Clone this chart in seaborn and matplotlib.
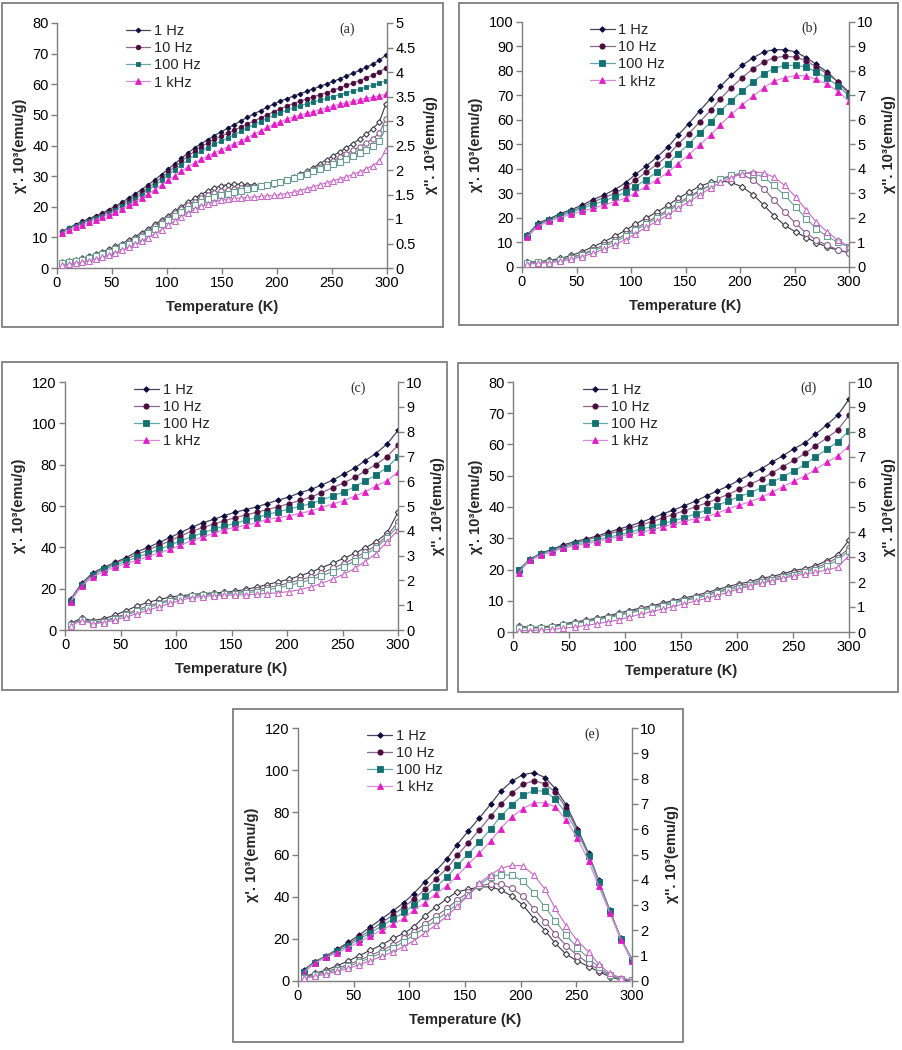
import matplotlib
matplotlib.use("Agg")
import matplotlib.pyplot as plt
import seaborn as sns
from matplotlib.patches import Rectangle
from matplotlib.ticker import FuncFormatter

# --- temperatures (K) ---
T_A = [5, 11, 17, 23, 29, 35, 41, 47, 53, 59, 65, 71, 77, 83, 89, 95, 101, 107, 113, 119,
       125, 131, 137, 143, 149, 155, 161, 167, 173, 179, 185, 191, 197, 203, 209, 215, 221,
       227, 233, 239, 245, 251, 257, 263, 269, 275, 281, 287, 293, 299]
T = [5, 15, 25, 35, 45, 55, 65, 75, 85, 95, 104, 114, 124, 134, 143, 153, 163, 173, 182, 192,
     202, 212, 222, 231, 241, 251, 261, 270, 280, 290, 300]

FREQS = ["1 Hz", "10 Hz", "100 Hz", "1 kHz"]

# --- panel (a) ---
a_re_1hz = [12.0, 13.2, 14.2, 15.2, 16.1, 17.0, 17.9, 19.0, 20.2, 21.4, 22.8, 24.2, 25.6, 27.2, 28.8,
            30.5, 32.3, 34.0, 35.8, 37.5, 39.2, 40.6, 41.9, 43.2, 44.4, 45.6, 46.8, 48.0, 49.2, 50.3,
            51.4, 52.5, 53.5, 54.5, 55.3, 56.1, 56.9, 57.7, 58.5, 59.3, 60.1, 60.9, 61.8, 62.7, 63.6,
            64.5, 65.5, 66.6, 67.8, 69.6]
a_re_10hz = [11.9, 13.0, 14.0, 14.9, 15.8, 16.6, 17.5, 18.5, 19.6, 20.8, 22.0, 23.3, 24.7, 26.2, 27.8,
             29.5, 31.2, 33.0, 34.8, 36.5, 38.1, 39.5, 40.8, 42.0, 43.0, 44.0, 45.0, 46.0, 47.0, 48.0,
             49.0, 50.0, 51.0, 52.0, 52.9, 53.7, 54.5, 55.2, 55.9, 56.6, 57.3, 58.0, 58.8, 59.6, 60.4,
             61.2, 62.1, 63.0, 64.0, 65.3]
a_re_100hz = [11.8, 12.9, 13.8, 14.7, 15.5, 16.3, 17.1, 18.0, 19.0, 20.1, 21.3, 22.6, 24.0, 25.5, 27.0,
              28.6, 30.3, 32.0, 33.7, 35.3, 36.8, 38.1, 39.3, 40.4, 41.4, 42.4, 43.5, 44.6, 45.7, 46.8,
              47.8, 48.8, 49.8, 50.7, 51.5, 52.3, 53.0, 53.6, 54.2, 54.8, 55.4, 56.0, 56.6, 57.2, 57.8,
              58.4, 59.0, 59.6, 60.3, 61.2]
a_re_1khz = [11.4, 12.4, 13.3, 14.1, 14.9, 15.7, 16.5, 17.4, 18.4, 19.4, 20.5, 21.7, 22.9, 24.2, 25.6,
             27.1, 28.6, 30.1, 31.6, 33.0, 34.3, 35.5, 36.6, 37.6, 38.5, 39.5, 40.5, 41.5, 42.6, 43.7,
             44.8, 45.9, 46.9, 47.8, 48.6, 49.3, 49.9, 50.5, 51.1, 51.7, 52.3, 52.9, 53.5, 54.0, 54.5,
             55.0, 55.4, 55.8, 56.2, 56.8]
a_im_1hz = [0.12, 0.14, 0.17, 0.2, 0.24, 0.28, 0.33, 0.38, 0.44, 0.5, 0.57, 0.64, 0.72, 0.8, 0.89,
            0.98, 1.07, 1.16, 1.25, 1.34, 1.42, 1.5, 1.57, 1.63, 1.68, 1.7, 1.71, 1.71, 1.7, 1.69,
            1.68, 1.69, 1.72, 1.76, 1.8, 1.85, 1.91, 1.98, 2.05, 2.13, 2.21, 2.29, 2.37, 2.45, 2.54,
            2.63, 2.73, 2.84, 2.98, 3.35]
a_im_10hz = [0.1, 0.12, 0.15, 0.18, 0.21, 0.25, 0.3, 0.35, 0.4, 0.46, 0.53, 0.6, 0.68, 0.76, 0.85,
             0.94, 1.03, 1.12, 1.2, 1.28, 1.35, 1.42, 1.48, 1.53, 1.57, 1.6, 1.62, 1.64, 1.65, 1.66,
             1.67, 1.69, 1.72, 1.75, 1.79, 1.84, 1.89, 1.95, 2.01, 2.07, 2.13, 2.19, 2.26, 2.33, 2.4,
             2.47, 2.55, 2.64, 2.75, 3.05]
a_im_100hz = [0.1, 0.12, 0.14, 0.17, 0.2, 0.24, 0.28, 0.33, 0.38, 0.44, 0.5, 0.57, 0.64, 0.72, 0.8,
              0.89, 0.98, 1.06, 1.14, 1.21, 1.28, 1.34, 1.4, 1.45, 1.49, 1.52, 1.55, 1.58, 1.61, 1.64,
              1.67, 1.7, 1.73, 1.76, 1.79, 1.83, 1.87, 1.92, 1.97, 2.02, 2.07, 2.12, 2.17, 2.22, 2.28,
              2.34, 2.41, 2.49, 2.6, 2.85]
a_im_1khz = [0.06, 0.08, 0.1, 0.12, 0.15, 0.18, 0.22, 0.26, 0.31, 0.36, 0.42, 0.48, 0.55, 0.62, 0.7,
             0.78, 0.87, 0.96, 1.05, 1.13, 1.2, 1.26, 1.31, 1.35, 1.38, 1.4, 1.42, 1.43, 1.44, 1.45,
             1.46, 1.47, 1.48, 1.5, 1.52, 1.55, 1.58, 1.62, 1.66, 1.7, 1.74, 1.78, 1.82, 1.86, 1.91,
             1.96, 2.02, 2.09, 2.18, 2.4]

# --- panel (b) ---
b_re_1hz = [13.2, 18.0, 19.7, 21.8, 23.4, 25.2, 27.5, 29.3, 31.6, 34.3, 37.8, 41.2, 44.9, 49.0, 53.7,
            58.5, 63.7, 68.7, 73.7, 78.2, 82.3, 85.4, 87.8, 88.7, 88.7, 87.8, 85.4, 82.7, 79.6, 75.5, 71.4]
b_re_10hz = [12.9, 17.5, 19.3, 21.2, 22.8, 24.5, 26.5, 28.3, 30.0, 32.5, 35.4, 38.8, 41.9, 45.6, 50.0,
             54.4, 59.2, 63.9, 68.7, 73.2, 77.3, 81.0, 83.7, 85.4, 86.0, 85.7, 84.1, 81.6, 78.9, 75.5, 70.5]
b_re_100hz = [12.8, 17.2, 19.0, 20.8, 22.3, 23.8, 25.5, 27.0, 28.5, 30.5, 32.8, 35.7, 38.8, 42.2, 46.2,
              50.2, 54.7, 59.1, 63.6, 67.9, 71.8, 75.6, 78.9, 81.0, 82.3, 82.3, 81.6, 79.6, 77.0, 74.0, 69.8]
b_re_1khz = [12.2, 16.8, 18.6, 20.2, 21.5, 22.7, 24.0, 25.3, 26.6, 28.1, 30.3, 33.0, 35.7, 38.7, 42.2,
             45.8, 49.9, 53.9, 58.1, 62.3, 66.2, 69.8, 73.2, 75.8, 77.3, 78.2, 78.0, 76.6, 74.7, 71.6, 67.7]
b_im_1hz = [0.2, 0.22, 0.27, 0.35, 0.47, 0.63, 0.82, 1.03, 1.25, 1.5, 1.75, 2.0, 2.25, 2.52, 2.8,
            3.05, 3.3, 3.45, 3.52, 3.45, 3.27, 2.95, 2.52, 2.1, 1.7, 1.43, 1.2, 0.99, 0.82, 0.68, 0.58]
b_im_10hz = [0.18, 0.2, 0.24, 0.3, 0.4, 0.53, 0.7, 0.9, 1.1, 1.33, 1.57, 1.82, 2.07, 2.33, 2.6,
             2.87, 3.12, 3.35, 3.55, 3.72, 3.78, 3.55, 3.2, 2.74, 2.25, 1.78, 1.38, 1.1, 0.88, 0.71, 0.58]
b_im_100hz = [0.17, 0.19, 0.22, 0.28, 0.37, 0.49, 0.64, 0.83, 1.02, 1.25, 1.5, 1.75, 2.0, 2.27, 2.53,
              2.8, 3.08, 3.35, 3.6, 3.75, 3.84, 3.81, 3.67, 3.33, 2.93, 2.45, 1.97, 1.56, 1.25, 1.0, 0.82]
b_im_1khz = [0.12, 0.15, 0.18, 0.23, 0.31, 0.42, 0.56, 0.72, 0.9, 1.12, 1.36, 1.62, 1.88, 2.13, 2.4,
             2.66, 2.95, 3.22, 3.45, 3.65, 3.8, 3.88, 3.84, 3.67, 3.33, 2.86, 2.31, 1.84, 1.43, 1.09, 0.84]

# --- panel (c) ---
c_re_1hz = [14.8, 22.6, 27.7, 30.3, 32.7, 35.0, 37.9, 40.0, 42.4, 44.8, 47.2, 49.6, 51.9, 53.5, 55.3,
            56.9, 58.3, 59.6, 61.2, 62.8, 64.4, 66.5, 68.1, 70.1, 72.5, 75.4, 78.4, 81.8, 85.4, 89.9, 96.6]
c_re_10hz = [14.5, 22.2, 27.3, 29.8, 32.2, 34.3, 36.5, 38.8, 41.0, 43.2, 45.5, 47.7, 49.6, 51.2, 52.8,
             54.3, 55.7, 57.0, 58.3, 59.6, 61.2, 62.7, 64.4, 66.5, 68.8, 71.2, 73.8, 76.8, 80.0, 83.8, 89.4]
c_re_100hz = [14.2, 21.7, 26.6, 29.3, 31.3, 33.2, 35.2, 37.1, 39.0, 41.1, 43.2, 45.1, 47.0, 48.8, 50.3,
              51.5, 53.2, 54.4, 55.9, 57.2, 58.5, 59.9, 61.2, 62.8, 64.8, 66.8, 69.3, 72.0, 74.9, 78.6, 83.8]
c_re_1khz = [13.7, 21.3, 25.8, 28.2, 30.5, 32.0, 33.8, 35.6, 37.4, 39.0, 41.1, 43.2, 45.1, 46.7, 48.6,
             49.6, 50.7, 52.0, 53.5, 54.3, 55.3, 56.4, 57.7, 59.3, 60.9, 62.5, 64.8, 66.8, 69.6, 72.2, 76.5]
c_im_1hz = [0.27, 0.48, 0.38, 0.46, 0.6, 0.78, 0.97, 1.12, 1.23, 1.33, 1.38, 1.43, 1.47, 1.5, 1.52,
            1.56, 1.64, 1.73, 1.83, 1.94, 2.05, 2.19, 2.34, 2.51, 2.69, 2.89, 3.09, 3.3, 3.55, 3.9, 4.75]
c_im_10hz = [0.24, 0.45, 0.32, 0.38, 0.5, 0.65, 0.82, 0.97, 1.1, 1.23, 1.32, 1.39, 1.43, 1.46, 1.48,
             1.51, 1.56, 1.62, 1.7, 1.79, 1.9, 2.02, 2.15, 2.3, 2.48, 2.68, 2.9, 3.13, 3.4, 3.8, 4.35]
c_im_100hz = [0.22, 0.42, 0.28, 0.34, 0.46, 0.6, 0.75, 0.9, 1.04, 1.18, 1.28, 1.36, 1.4, 1.43, 1.45,
              1.47, 1.5, 1.55, 1.62, 1.7, 1.8, 1.91, 2.03, 2.18, 2.35, 2.55, 2.78, 3.02, 3.3, 3.7, 4.2]
c_im_1khz = [0.18, 0.38, 0.25, 0.3, 0.4, 0.52, 0.66, 0.8, 0.94, 1.08, 1.2, 1.3, 1.35, 1.38, 1.4,
             1.41, 1.42, 1.45, 1.47, 1.5, 1.55, 1.63, 1.74, 1.88, 2.05, 2.25, 2.48, 2.75, 3.08, 3.55, 4.03]

# --- panel (d) ---
d_re_1hz = [19.9, 23.3, 25.2, 26.5, 27.9, 28.9, 29.8, 30.7, 31.9, 33.0, 33.9, 35.1, 36.4, 37.8, 39.0,
            40.4, 41.9, 43.6, 45.1, 46.7, 48.6, 50.5, 52.3, 54.3, 56.4, 58.7, 60.6, 63.3, 66.2, 69.4, 74.5]
d_re_10hz = [19.7, 23.0, 24.9, 26.2, 27.5, 28.5, 29.4, 30.3, 31.3, 32.3, 33.2, 34.2, 35.3, 36.5, 37.6,
             38.8, 40.1, 41.3, 42.6, 44.0, 45.7, 47.3, 49.0, 50.9, 52.9, 55.0, 57.2, 59.6, 62.0, 64.7, 69.3]
d_re_100hz = [19.9, 23.1, 24.9, 26.1, 27.0, 28.1, 28.7, 29.5, 30.3, 31.1, 31.9, 32.9, 33.7, 34.8, 35.5,
              36.6, 37.8, 39.0, 40.4, 41.9, 43.3, 44.6, 46.2, 47.9, 49.7, 51.6, 53.7, 56.1, 58.4, 60.9, 64.4]
d_re_1khz = [19.0, 22.9, 24.5, 25.7, 26.8, 27.6, 28.2, 28.9, 29.8, 30.5, 31.4, 31.9, 32.7, 33.7, 34.5,
             35.5, 36.2, 36.9, 38.0, 39.4, 40.6, 41.7, 43.1, 44.7, 46.5, 48.3, 50.0, 52.0, 54.3, 56.3, 59.6]
d_im_1hz = [0.23, 0.19, 0.2, 0.25, 0.33, 0.4, 0.47, 0.56, 0.65, 0.76, 0.86, 0.96, 1.05, 1.16, 1.26,
            1.36, 1.46, 1.58, 1.69, 1.82, 1.93, 2.02, 2.15, 2.22, 2.33, 2.46, 2.54, 2.65, 2.85, 3.09, 3.68]
d_im_10hz = [0.2, 0.17, 0.18, 0.22, 0.3, 0.37, 0.44, 0.52, 0.61, 0.71, 0.81, 0.91, 1.0, 1.1, 1.2,
             1.3, 1.4, 1.51, 1.62, 1.74, 1.85, 1.95, 2.07, 2.15, 2.26, 2.38, 2.47, 2.57, 2.75, 2.97, 3.35]
d_im_100hz = [0.18, 0.15, 0.16, 0.2, 0.27, 0.34, 0.41, 0.49, 0.57, 0.67, 0.76, 0.86, 0.95, 1.05, 1.15,
              1.25, 1.35, 1.45, 1.56, 1.68, 1.78, 1.88, 2.0, 2.08, 2.19, 2.3, 2.4, 2.5, 2.66, 2.87, 3.25]
d_im_1khz = [0.05, 0.06, 0.08, 0.11, 0.15, 0.2, 0.26, 0.33, 0.41, 0.49, 0.6, 0.71, 0.82, 0.92, 1.02,
             1.13, 1.24, 1.35, 1.46, 1.59, 1.72, 1.85, 1.95, 2.05, 2.15, 2.24, 2.32, 2.39, 2.48, 2.59, 3.06]

# --- panel (e) ---
e_re_1hz = [5.2, 9.2, 11.8, 15.0, 18.3, 21.8, 25.7, 29.4, 33.2, 37.1, 41.5, 47.1, 52.3, 58.1, 64.7,
            71.2, 77.4, 83.8, 90.0, 94.7, 97.9, 98.8, 96.5, 91.3, 83.4, 72.3, 60.5, 47.8, 33.6, 20.2, 10.3]
e_re_10hz = [4.7, 9.0, 11.6, 14.5, 17.6, 20.7, 24.0, 27.6, 31.2, 35.0, 38.8, 43.4, 48.5, 53.5, 59.6,
             65.6, 71.8, 78.1, 83.8, 89.2, 93.3, 95.0, 93.5, 89.5, 82.0, 71.5, 60.0, 47.3, 33.3, 20.0, 9.6]
e_re_100hz = [4.5, 8.7, 11.3, 14.0, 16.8, 19.8, 22.8, 26.0, 29.3, 32.5, 36.0, 40.2, 44.7, 49.5, 54.8,
              60.3, 66.0, 72.1, 78.1, 83.5, 88.0, 90.4, 90.0, 86.2, 79.5, 70.2, 59.5, 47.0, 33.0, 20.0, 10.0]
e_re_1khz = [3.8, 8.4, 11.2, 13.4, 15.8, 18.6, 21.3, 24.2, 26.8, 29.7, 33.6, 37.1, 41.5, 45.2, 49.9,
             55.4, 60.8, 66.3, 72.3, 77.8, 81.8, 84.5, 84.5, 82.6, 76.3, 67.6, 57.0, 45.1, 32.4, 19.5, 9.5]
e_im_1hz = [0.17, 0.3, 0.43, 0.6, 0.79, 1.0, 1.22, 1.42, 1.68, 1.88, 2.14, 2.58, 2.93, 3.26, 3.53,
            3.62, 3.72, 3.72, 3.6, 3.36, 3.0, 2.47, 1.99, 1.49, 1.05, 0.79, 0.57, 0.37, 0.17, 0.04, 0.0]
e_im_10hz = [0.15, 0.26, 0.37, 0.5, 0.65, 0.82, 1.01, 1.2, 1.42, 1.68, 1.95, 2.25, 2.56, 2.88, 3.2,
             3.5, 3.75, 3.85, 3.83, 3.66, 3.36, 2.85, 2.34, 1.86, 1.4, 1.0, 0.7, 0.45, 0.22, 0.08, 0.02]
e_im_100hz = [0.12, 0.22, 0.32, 0.44, 0.58, 0.74, 0.92, 1.1, 1.3, 1.55, 1.82, 2.1, 2.4, 2.72, 3.05,
              3.4, 3.8, 4.12, 4.2, 4.18, 3.95, 3.48, 2.92, 2.38, 1.82, 1.3, 0.9, 0.55, 0.25, 0.08, 0.02]
e_im_1khz = [0.1, 0.18, 0.27, 0.38, 0.5, 0.64, 0.8, 0.97, 1.15, 1.36, 1.59, 1.9, 2.22, 2.58, 2.95,
             3.38, 3.88, 4.2, 4.45, 4.57, 4.55, 4.18, 3.62, 2.87, 2.18, 1.58, 1.16, 0.67, 0.3, 0.13, 0.04]

# styles
MARKERS = ["D", "o", "s", "^"]
MSCALE = [0.75, 1.0, 0.95, 1.1]
FILL_COLORS = ["#0b0b3d", "#4a0c3c", "#137070", "#e21dc6"]
LINE_COLORS = ["#45455e", "#8c6a8c", "#66a8a8", "#d88cd8"]
OPEN_COLORS = ["#3a3a44", "#8a5c8a", "#6a9e8e", "#c868c8"]
GRAY = "#7f7f7f"

sns.set_theme(style="ticks")
plt.rcParams["font.family"] = ["Liberation Sans", "DejaVu Sans"]

W, H = 902, 1050
fig = plt.figure(figsize=(W / 100, H / 100), dpi=100)

panels = [
    # label, box (l, t, r, b), axes (l, r, t, b), temps, real, imag, ymax, ystep, y2max, y2step, ms
    ("(a)", (2, 3, 443, 327), (57, 387, 23, 268), T_A,
     [a_re_1hz, a_re_10hz, a_re_100hz, a_re_1khz], [a_im_1hz, a_im_10hz, a_im_100hz, a_im_1khz],
     80, 10, 5, 0.5, 3.3),
    ("(b)", (459, 3, 898, 325), (522, 849, 22, 267), T,
     [b_re_1hz, b_re_10hz, b_re_100hz, b_re_1khz], [b_im_1hz, b_im_10hz, b_im_100hz, b_im_1khz],
     100, 10, 10, 1, 3.8),
    ("(c)", (2, 362, 447, 690), (65, 398, 382, 630), T,
     [c_re_1hz, c_re_10hz, c_re_100hz, c_re_1khz], [c_im_1hz, c_im_10hz, c_im_100hz, c_im_1khz],
     120, 20, 10, 1, 3.8),
    ("(d)", (458, 363, 898, 692), (513, 849, 382, 632), T,
     [d_re_1hz, d_re_10hz, d_re_100hz, d_re_1khz], [d_im_1hz, d_im_10hz, d_im_100hz, d_im_1khz],
     80, 10, 10, 1, 3.8),
    ("(e)", (233, 709, 683, 1042), (298, 632, 728, 981), T,
     [e_re_1hz, e_re_10hz, e_re_100hz, e_re_1khz], [e_im_1hz, e_im_10hz, e_im_100hz, e_im_1khz],
     120, 20, 10, 1, 3.8),
]

fmt = FuncFormatter(lambda v, p: f"{v:g}")

for lab, box, axp, temps, reals, imags, ymax, ystep, y2max, y2step, ms in panels:
    bl, bt, br, bb = box
    fig.add_artist(Rectangle((bl / W, 1 - bb / H), (br - bl) / W, (bb - bt) / H,
                             transform=fig.transFigure, fill=False, edgecolor=GRAY, lw=1.3))
    al, ar, at, ab = axp
    ax = fig.add_axes([al / W, 1 - ab / H, (ar - al) / W, (ab - at) / H])
    ax2 = ax.twinx()

    for i in range(4):
        sns.lineplot(x=temps, y=reals[i], ax=ax, color=LINE_COLORS[i], linewidth=0.9,
                     marker=MARKERS[i], markersize=ms * MSCALE[i], markerfacecolor=FILL_COLORS[i],
                     markeredgecolor=FILL_COLORS[i], markeredgewidth=0.6, label=FREQS[i])
        sns.lineplot(x=temps, y=imags[i], ax=ax2, color=OPEN_COLORS[i], linewidth=0.8,
                     marker=MARKERS[i], markersize=(ms + 0.5) * MSCALE[i], markerfacecolor="white",
                     markeredgecolor=OPEN_COLORS[i], markeredgewidth=0.8)

    handles, labels = ax.get_legend_handles_labels()
    if ax.get_legend() is not None:
        ax.get_legend().remove()
    if ax2.get_legend() is not None:
        ax2.get_legend().remove()
    ax2.legend(handles, labels, loc="upper left", bbox_to_anchor=(0.19, 1.02), frameon=False,
               fontsize=10.5, handlelength=1.7, handletextpad=0.25, labelspacing=0.22,
               borderaxespad=0)

    ax.set_xlim(0, 300)
    ax.set_ylim(0, ymax)
    ax2.set_ylim(0, y2max)
    ax.set_xticks(range(0, 301, 50))
    ax.set_yticks([ystep * k for k in range(int(round(ymax / ystep)) + 1)])
    ax2.set_yticks([y2step * k for k in range(int(round(y2max / y2step)) + 1)])
    ax2.yaxis.set_major_formatter(fmt)

    for a in (ax, ax2):
        a.spines["top"].set_visible(False)
        for s in a.spines.values():
            s.set_color(GRAY)
            s.set_linewidth(1.0)
        a.tick_params(direction="out", length=4, width=1, color=GRAY, labelsize=10.5,
                      labelcolor="black", pad=2)
    ax.spines["right"].set_visible(False)
    ax2.spines["left"].set_visible(False)
    ax2.spines["bottom"].set_visible(False)

    ax.set_xlabel("Temperature (K)", fontsize=10.5, fontweight="bold", labelpad=7)
    ax.set_ylabel("χ'. 10³(emu/g)", fontsize=10.5, fontweight="bold", labelpad=4)
    ax2.set_ylabel("χ''. 10³(emu/g)", fontsize=10.5, fontweight="bold", labelpad=6)
    ax2.text(0.88, 0.975, lab, transform=ax2.transAxes, ha="center", va="center",
             fontsize=10, family="Liberation Serif")

fig.savefig("out.png", dpi=100)
